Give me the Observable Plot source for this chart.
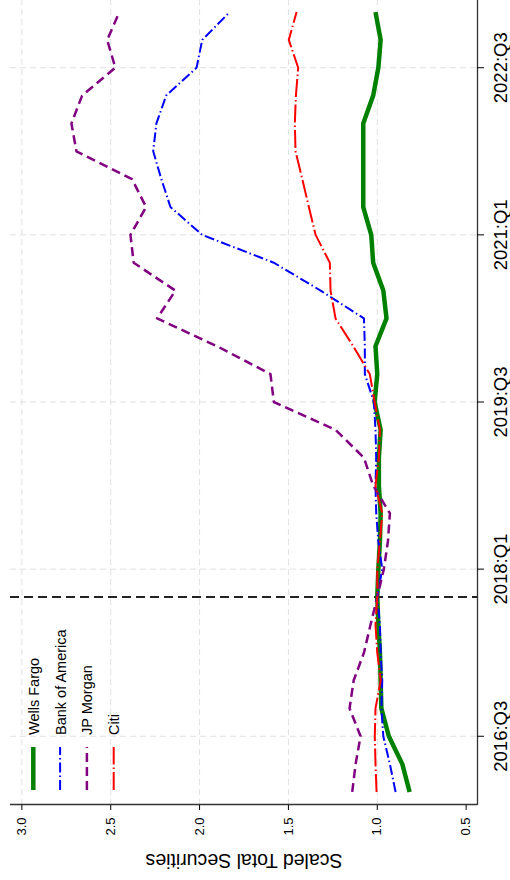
<!DOCTYPE html>
<html><head><meta charset="utf-8">
<script src="https://cdn.jsdelivr.net/npm/d3@7"></script>
<script src="https://cdn.jsdelivr.net/npm/@observablehq/plot@0.6"></script>
<style>
html,body{margin:0;padding:0;background:#fff;overflow:hidden;width:510px;height:880px}
#wrap{position:absolute;left:0;top:0;width:880px;height:510px;transform-origin:0 0;transform:translate(0,880px) rotate(-90deg)}
</style></head><body><div id="wrap"></div><script>
const quarters = ["2016:Q1","2016:Q2","2016:Q3","2016:Q4","2017:Q1","2017:Q2","2017:Q3","2017:Q4",
  "2018:Q1","2018:Q2","2018:Q3","2018:Q4","2019:Q1","2019:Q2","2019:Q3","2019:Q4",
  "2020:Q1","2020:Q2","2020:Q3","2020:Q4","2021:Q1","2021:Q2","2021:Q3","2021:Q4",
  "2022:Q1","2022:Q2","2022:Q3","2022:Q4","2023:Q1"];
const wellsFargo = [0.818,0.859,0.935,0.977,0.981,0.985,0.994,1.000,0.994,0.985,0.981,0.991,0.991,0.981,1.015,1.000,1.010,0.948,0.966,1.023,1.034,1.079,1.079,1.079,1.079,1.023,0.994,0.981,1.010];
const bankOfAmerica = [0.897,0.929,0.966,0.977,0.972,0.981,0.985,1.000,0.972,0.994,1.006,1.010,1.006,1.010,1.019,1.070,1.070,1.075,1.319,1.582,1.985,2.164,2.215,2.261,2.243,2.188,2.017,1.985,1.830];
const jpMorgan = [1.141,1.122,1.094,1.156,1.133,1.075,1.038,1.000,0.963,0.940,0.929,1.023,1.075,1.235,1.582,1.601,1.901,2.239,2.136,2.371,2.389,2.301,2.380,2.693,2.721,2.661,2.474,2.520,2.451];
const citi = [1.004,1.010,1.014,1.010,0.981,1.000,1.010,1.000,1.000,0.985,0.972,1.010,0.991,0.985,1.015,1.042,1.135,1.235,1.263,1.267,1.347,1.385,1.422,1.460,1.464,1.458,1.445,1.498,1.454];
const seriesNames = ["Wells Fargo","Bank of America","JP Morgan","Citi"];
const tickLabels = ["2016:Q3","2018:Q1","2019:Q3","2021:Q1","2022:Q3"];
const yTicks = [0.5,1.0,1.5,2.0,2.5,3.0];
const refQuarter = "2017:Q4";
const yTitle = "Scaled Total Securities";

const seriesValues = [wellsFargo, bankOfAmerica, jpMorgan, citi];
const seriesStyle = [
  {stroke:"#008000", width:4.5, dash:null},
  {stroke:"#0000ff", width:2, dash:"10,3,1.5,3"},
  {stroke:"#800080", width:2.5, dash:"9,5"},
  {stroke:"#ff0000", width:2, dash:"18,3,1.5,3"}
];
const data = seriesNames.flatMap((name, s) => seriesValues[s].map((v, i) => ({name, i, v})));
const tickIdx = tickLabels.map(l => quarters.indexOf(l));
const xDomain = [-0.45, quarters.length - 1 + 0.45];
const yDomain = [0.436, 3.064];
const gridStyle = {stroke:"#e0e0e0", strokeOpacity:1, strokeWidth:1, strokeDasharray:"6,4"};
const font = "'Liberation Sans', Arial, sans-serif";

const plot = Plot.plot({
  width: 880, height: 510,
  marginLeft: 75, marginRight: 0, marginTop: 10, marginBottom: 33,
  style: {fontFamily: font, background: "#fff", color: "#000"},
  x: {domain: xDomain},
  y: {domain: yDomain},
  marks: [
    Plot.gridX(tickIdx, gridStyle),
    Plot.gridY(yTicks.slice(1), gridStyle),
    Plot.ruleX([quarters.indexOf(refQuarter)], {stroke:"#222", strokeWidth:1.8, strokeDasharray:"9,5"}),
    ...seriesNames.map((name, s) => Plot.line(data.filter(d => d.name === name), {
      x: "i", y: "v", stroke: seriesStyle[s].stroke, strokeWidth: seriesStyle[s].width,
      strokeDasharray: seriesStyle[s].dash, strokeLinejoin: "round", strokeLinecap: "butt"
    })),
    Plot.ruleY([yDomain[0]], {stroke:"#333", strokeWidth:1.3}),
    Plot.ruleX([xDomain[0]], {stroke:"#333", strokeWidth:1.3}),
    Plot.axisX({ticks: tickIdx, tickFormat: i => quarters[i], tickSize: 7, tickPadding: 9, fontSize: 18.5, label: null}),
    Plot.axisY({ticks: yTicks, tickFormat: d3.format(".1f"), tickSize: 5, tickPadding: 8, fontSize: 13, label: null}),
    Plot.text([yTitle], {frameAnchor: "left", textAnchor: "middle", rotate: -90, dx: -56, fontSize: 19.5, fill: "#000"})
  ]
});
document.getElementById("wrap").appendChild(plot);

// legend (inside plot, top-left)
const svg = d3.select(plot);
const lg = svg.append("g").attr("font-family", font).attr("font-size", 14.5).attr("text-anchor", "start");
seriesNames.forEach((name, s) => {
  const y = 33.3 + 26.8 * s;
  lg.append("line").attr("x1", 90).attr("x2", 133).attr("y1", y).attr("y2", y)
    .attr("stroke", seriesStyle[s].stroke).attr("stroke-width", seriesStyle[s].width)
    .attr("stroke-dasharray", seriesStyle[s].dash);
  lg.append("text").attr("x", 145).attr("y", y + 5.5).attr("fill", "#000").attr("text-anchor", "start").text(name);
});
</script></body></html>
